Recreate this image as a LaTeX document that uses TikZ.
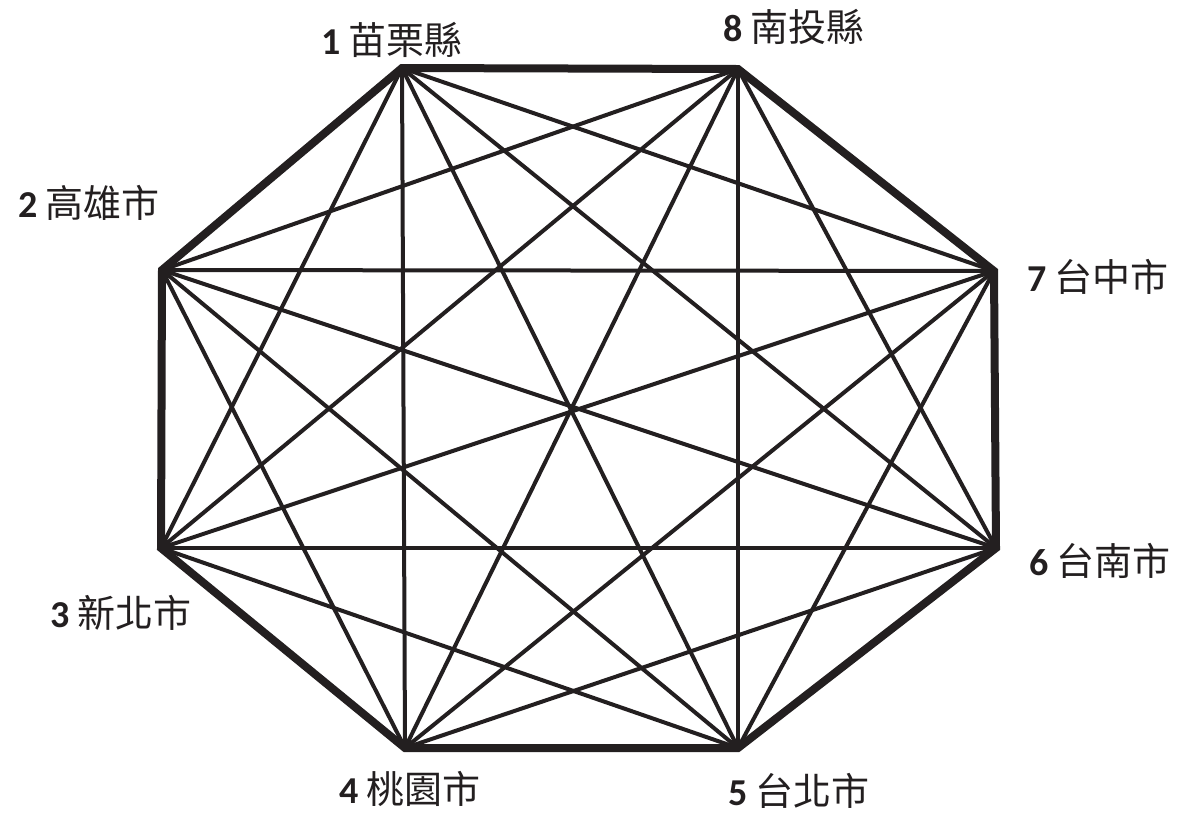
\documentclass[tikz,border=0pt]{standalone}
\usepackage{fontspec}
\setmainfont{Carlito}
\newfontfamily\cjk{Noto Sans CJK TC}
\usepackage{tikz}
\definecolor{inkblk}{RGB}{35,31,32}
\newcommand{\cityname}[2]{\textbf{#1} {\cjk #2}}
\tikzset{
  chord/.style = {inkblk, line width=4pt},
  rim/.style   = {inkblk, line width=8pt, line join=miter},
  city/.style  = {font=\fontsize{38}{40}\selectfont, text=inkblk, inner sep=0pt}
}

\begin{document}
\begin{tikzpicture}[x=1pt,y=-1pt]
  \useasboundingbox (0,0) rectangle (1188,815);
  \coordinate (v1) at (402,68);
  \coordinate (v8) at (738,69);
  \coordinate (v7) at (994,271);
  \coordinate (v6) at (996,548);
  \coordinate (v5) at (738,748);
  \coordinate (v4) at (405,748);
  \coordinate (v3) at (161,548);
  \coordinate (v2) at (162,270);
  % every pair of towns
  \foreach \a in {1,...,8}
    \foreach \b in {1,...,8}
      { \ifnum\a<\b \draw[chord] (v\a) -- (v\b); \fi }
  \draw[rim] (v1) -- (v8) -- (v7) -- (v6) -- (v5) -- (v4) -- (v3) -- (v2) -- cycle;
  \node[city] (l1) at (392,40)  {\cityname{1}{苗栗縣}};
  \node[city] (l8) at (794,27)  {\cityname{8}{南投縣}};
  \node[city] (l2) at (89,203)  {\cityname{2}{高雄市}};
  \node[city] (l7) at (1098,277) {\cityname{7}{台中市}};
  \node[city] (l6) at (1100,561) {\cityname{6}{台南市}};
  \node[city] (l3) at (121,613) {\cityname{3}{新北市}};
  \node[city] (l4) at (410,789) {\cityname{4}{桃園市}};
  \node[city] (l5) at (799,791) {\cityname{5}{台北市}};
\end{tikzpicture}
\end{document}
